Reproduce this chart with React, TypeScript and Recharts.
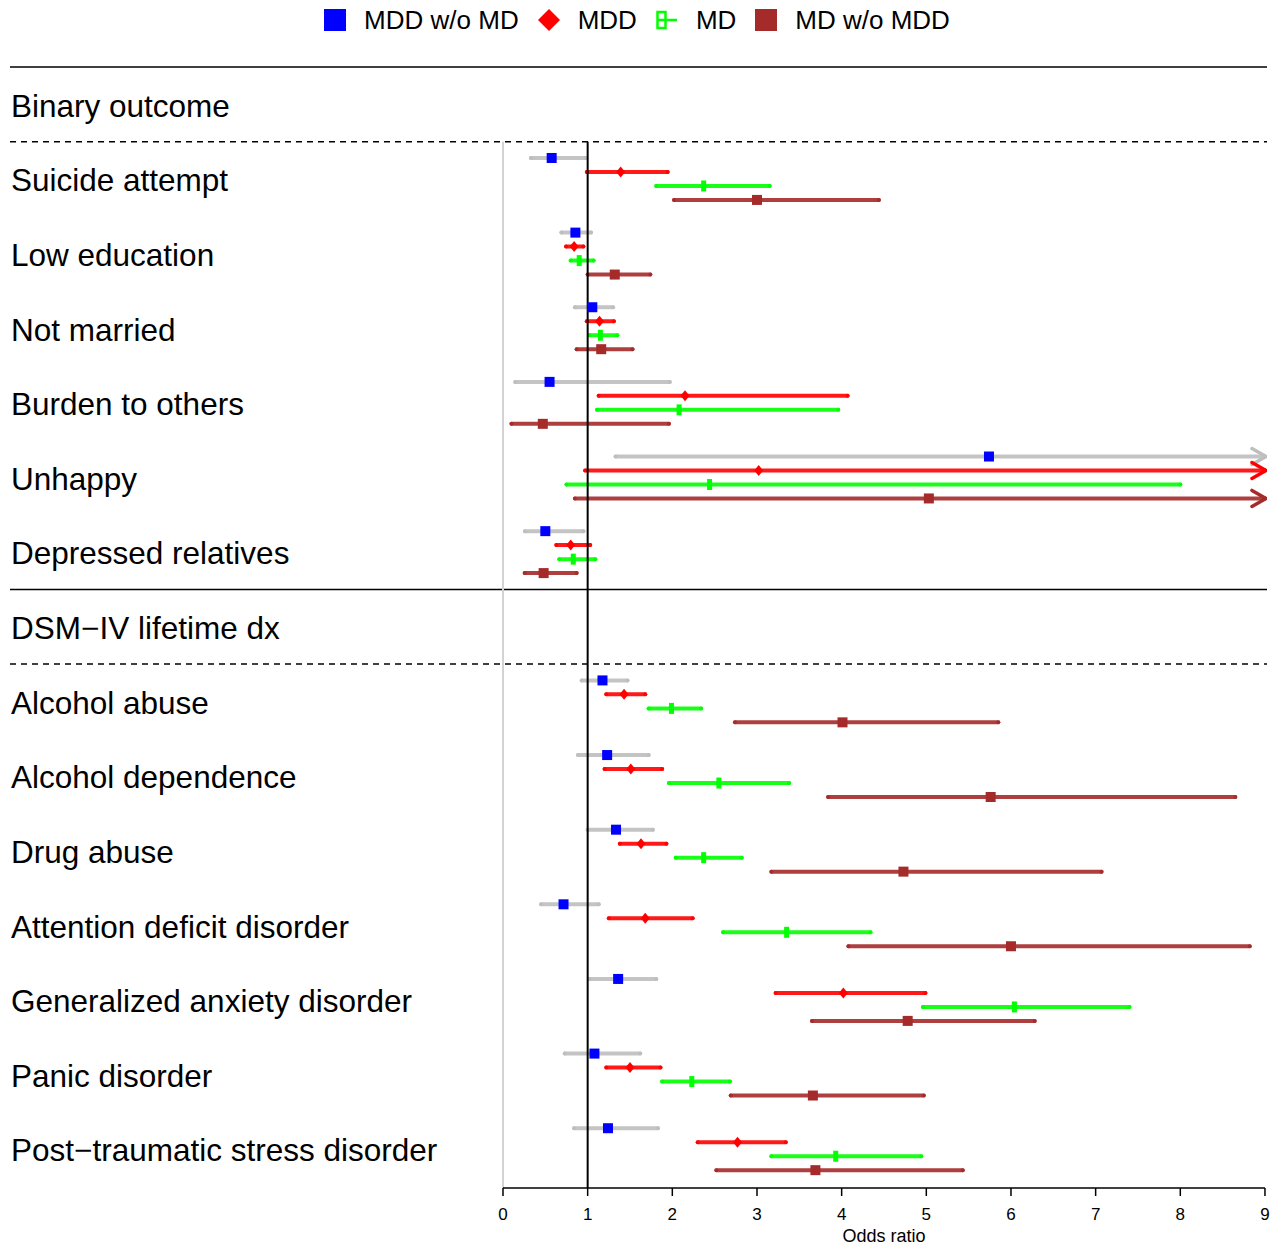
import React from "react";
import { ScatterChart, Scatter, XAxis, YAxis, ErrorBar, ReferenceLine, Legend } from "recharts";

const FONT = '"Liberation Sans", Arial, Helvetica, sans-serif';

const binaryOutcomes = [
  "Suicide attempt", "Low education", "Not married",
  "Burden to others", "Unhappy", "Depressed relatives",
];
const dsmDiagnoses = [
  "Alcohol abuse", "Alcohol dependence", "Drug abuse", "Attention deficit disorder",
  "Generalized anxiety disorder", "Panic disorder", "Post\u2212traumatic stress disorder",
];
const sectionTitles = ["Binary outcome", "DSM\u2212IV lifetime dx"];
const oddsTicks = [0, 1, 2, 3, 4, 5, 6, 7, 8, 9];

// odds ratio + 95% CI per row (binary outcomes first, then DSM-IV dx)
// upper = null -> CI runs past the right end of the axis (drawn as an arrow)
const mddWoMdOr = [0.575, 0.855, 1.055, 0.55, 5.74, 0.5, 1.175, 1.23, 1.335, 0.715, 1.36, 1.08, 1.24];
const mddWoMdLo = [0.33, 0.69, 0.85, 0.145, 1.33, 0.26, 0.93, 0.886, 1.0, 0.45, 1.02, 0.73, 0.84];
const mddWoMdHi = [0.98, 1.04, 1.3, 1.97, null, 0.95, 1.47, 1.72, 1.77, 1.13, 1.81, 1.62, 1.83];

const mddOr = [1.39, 0.84, 1.14, 2.15, 3.02, 0.8, 1.43, 1.51, 1.63, 1.68, 4.02, 1.5, 2.77];
const mddLo = [0.99, 0.745, 0.99, 1.13, 0.97, 0.63, 1.22, 1.2, 1.38, 1.25, 3.22, 1.22, 2.3];
const mddHi = [1.945, 0.95, 1.31, 4.07, null, 1.03, 1.68, 1.88, 1.93, 2.24, 4.99, 1.86, 3.34];

const mdOr = [2.37, 0.9, 1.15, 2.08, 2.44, 0.83, 1.99, 2.55, 2.37, 3.35, 6.04, 2.23, 3.93];
const mdLo = [1.81, 0.8, 1.02, 1.11, 0.75, 0.665, 1.72, 1.96, 2.04, 2.6, 4.96, 1.88, 3.17];
const mdHi = [3.15, 1.07, 1.35, 3.96, 8.0, 1.09, 2.34, 3.38, 2.82, 4.34, 7.4, 2.68, 4.94];

const mdWoMddOr = [3.0, 1.32, 1.16, 0.47, 5.03, 0.48, 4.01, 5.76, 4.73, 6.0, 4.78, 3.66, 3.69];
const mdWoMddLo = [2.02, 1.0, 0.87, 0.1, 0.85, 0.256, 2.74, 3.84, 3.17, 4.08, 3.65, 2.69, 2.52];
const mdWoMddHi = [4.44, 1.74, 1.53, 1.96, null, 0.87, 5.85, 8.65, 7.07, 8.82, 6.28, 4.97, 5.43];

// layout
const AXIS_MAX = 9;
const X_DOMAIN = [-5.823, 9.024];
const Y_DOMAIN = [-1.5, 13.52];
const ROW_OFFSETS = [-0.281, -0.094, 0.094, 0.281];

const groupPos = [...binaryOutcomes.map((_, i) => i), ...dsmDiagnoses.map((_, i) => i + 7)];
const labelRows = [
  { y: -1, label: sectionTitles[0] },
  ...binaryOutcomes.map((label, i) => ({ y: i, label })),
  { y: 6, label: sectionTitles[1] },
  ...dsmDiagnoses.map((label, i) => ({ y: i + 7, label })),
].map((r) => ({ ...r, x: X_DOMAIN[0] }));

type Kind = "square" | "diamond" | "bar";
const series = [
  { name: "MDD w/o MD", or: mddWoMdOr, lo: mddWoMdLo, hi: mddWoMdHi, color: "#0000ff", ci: "#bebebe", kind: "square" as Kind },
  { name: "MDD", or: mddOr, lo: mddLo, hi: mddHi, color: "#ff0000", ci: "#ff0000", kind: "diamond" as Kind },
  { name: "MD", or: mdOr, lo: mdLo, hi: mdHi, color: "#00ff00", ci: "#00ff00", kind: "bar" as Kind },
  { name: "MD w/o MDD", or: mdWoMddOr, lo: mdWoMddLo, hi: mdWoMddHi, color: "#a52a2a", ci: "#a52a2a", kind: "square" as Kind },
];

function markerShape(kind: Kind, color: string) {
  return (p: any) => {
    const { cx, cy } = p;
    if (kind === "diamond")
      return <polygon points={`${cx},${cy - 5.5} ${cx + 4.5},${cy} ${cx},${cy + 5.5} ${cx - 4.5},${cy}`} fill={color} />;
    if (kind === "bar") return <rect x={cx - 2.5} y={cy - 5.5} width={5} height={11} fill={color} />;
    return <rect x={cx - 5} y={cy - 5} width={10} height={10} fill={color} />;
  };
}

function arrowShape(color: string) {
  return (p: any) => {
    const { cx, cy } = p;
    return (
      <polyline
        points={`${cx - 13},${cy - 8} ${cx + 1},${cy} ${cx - 13},${cy + 8}`}
        fill="none" stroke={color} strokeWidth={3.5} strokeLinecap="round" strokeLinejoin="round"
      />
    );
  };
}

function labelShape(p: any) {
  const { cx, cy, payload } = p;
  return (
    <text x={cx + 1} y={cy} dy="0.39em" fontSize={31.5} fontFamily={FONT} fill="#000" textAnchor="start">
      {payload.label}
    </text>
  );
}

function LegendIcon({ kind, color }: { kind: Kind; color: string }) {
  return (
    <svg width={22} height={22} style={{ marginRight: 18 }}>
      {kind === "square" && <rect x={0} y={0} width={22} height={22} fill={color} />}
      {kind === "diamond" && <polygon points="11,0 22,11 11,22 0,11" fill={color} />}
      {kind === "bar" && (
        <g>
          <rect x={1.5} y={3} width={8} height={16} fill="none" stroke={color} strokeWidth={2.5} />
          <line x1={1.5} y1={11} x2={21} y2={11} stroke={color} strokeWidth={2.5} />
        </g>
      )}
    </svg>
  );
}

function LegendRow() {
  return (
    <div style={{ display: "flex", justifyContent: "center", alignItems: "center", height: 40, paddingLeft: 10, fontFamily: FONT, fontSize: 26, color: "#000" }}>
      {series.map((s) => (
        <div key={s.name} style={{ display: "flex", alignItems: "center", marginRight: 19 }}>
          <LegendIcon kind={s.kind} color={s.color} />
          <span>{s.name}</span>
        </div>
      ))}
    </div>
  );
}

export default function App() {
  const rows = series.map((s, k) => {
    const points = s.or.map((v, i) => {
      const upper = s.hi[i] ?? AXIS_MAX;
      return { x: v, y: groupPos[i] + ROW_OFFSETS[k], err: [v - s.lo[i], upper - v] };
    });
    const arrows = s.or
      .map((_, i) => (s.hi[i] == null ? { x: AXIS_MAX, y: groupPos[i] + ROW_OFFSETS[k] } : null))
      .filter(Boolean);
    return { ...s, points, arrows };
  });

  return (
    <div style={{ position: "absolute", left: 0, top: 0, background: "#fff" }}>
      <ScatterChart width={1283} height={1249} margin={{ top: 67, right: 16, bottom: 0, left: 10 }}>
        <XAxis
          type="number" dataKey="x" domain={X_DOMAIN} ticks={oddsTicks} interval={0} allowDataOverflow
          axisLine={false} tickLine={{ stroke: "#000", strokeWidth: 1.5 }} tickSize={8} tickMargin={12}
          tick={{ fill: "#000", fontSize: 17, fontFamily: FONT }} height={61}
        />
        <YAxis type="number" dataKey="y" domain={Y_DOMAIN} reversed allowDataOverflow hide />
        <Legend verticalAlign="middle" align="center" layout="horizontal" content={() => <LegendRow />}
          wrapperStyle={{ top: 0, left: 0, width: 1283 }} />

        <ReferenceLine y={-1.5} stroke="#000" strokeWidth={1.5} />
        <ReferenceLine y={-0.5} stroke="#000" strokeWidth={1.5} strokeDasharray="6 5" />
        <ReferenceLine y={5.5} stroke="#000" strokeWidth={1.5} />
        <ReferenceLine y={6.5} stroke="#000" strokeWidth={1.5} strokeDasharray="6 5" />
        <ReferenceLine segment={[{ x: 0, y: -0.5 }, { x: 0, y: Y_DOMAIN[1] }]} stroke="#d3d3d3" strokeWidth={2} />

        <Scatter name="row labels" data={labelRows} isAnimationActive={false} shape={labelShape} legendType="none" />

        {rows.map((s) => (
          <Scatter key={s.name} name={s.name} data={s.points} isAnimationActive={false} shape={markerShape(s.kind, s.color)}>
            <ErrorBar dataKey="err" direction="x" width={0} stroke={s.ci} strokeWidth={4} strokeOpacity={0.9}
              strokeLinecap="round" isAnimationActive={false} />
          </Scatter>
        ))}
        {rows.map((s) => (
          <Scatter key={s.name + "-arrow"} name={s.name + " (beyond axis)"} data={s.arrows} isAnimationActive={false}
            shape={arrowShape(s.ci)} legendType="none" />
        ))}

        <ReferenceLine segment={[{ x: 1, y: -0.5 }, { x: 1, y: Y_DOMAIN[1] }]} stroke="#000" strokeWidth={2} />
        <ReferenceLine
          segment={[{ x: 0, y: Y_DOMAIN[1] }, { x: AXIS_MAX, y: Y_DOMAIN[1] }]} stroke="#000" strokeWidth={1.5}
          label={{ value: "Odds ratio", position: "bottom", offset: 41, fill: "#000", fontSize: 18, fontFamily: FONT }}
        />
      </ScatterChart>
    </div>
  );
}
